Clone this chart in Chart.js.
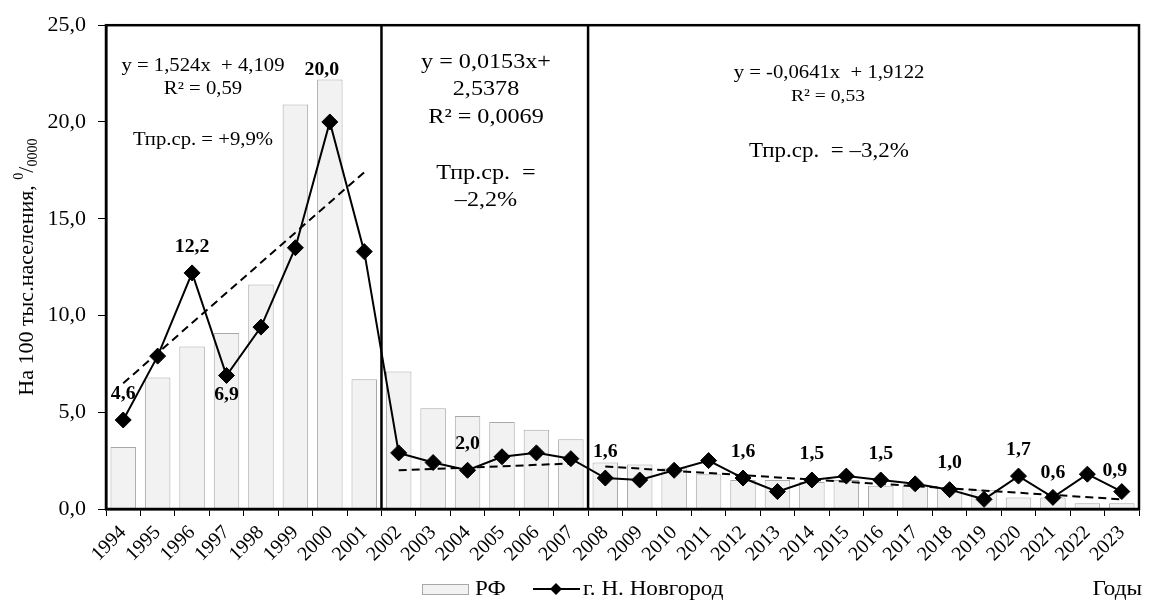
<!DOCTYPE html>
<html>
<head>
<meta charset="utf-8">
<script src="https://cdn.jsdelivr.net/npm/chart.js@4.4.1/dist/chart.umd.min.js"></script>
<style>
    html, body { margin: 0; padding: 0; background: #fff; }
</style>
</head>
<body>
<canvas id="chart" width="1152" height="603"></canvas>
<script>
// data
const years = ['1994','1995','1996','1997','1998','1999','2000','2001','2002','2003','2004','2005','2006','2007',
               '2008','2009','2010','2011','2012','2013','2014','2015','2016','2017','2018','2019','2020','2021','2022','2023'];
const rfValues = [3.2, 6.8, 8.4, 9.1, 11.6, 20.9, 22.2, 6.7, 7.1, 5.2, 4.8, 4.5, 4.1, 3.6,
                  2.4, 2.3, 2.1, 1.8, 1.5, 1.5, 1.4, 1.5, 1.2, 1.2, 1.1, 1.0, 0.6, 0.6, 0.3, 0.3];
const novValues = [4.6, 7.9, 12.2, 6.9, 9.4, 13.5, 20.0, 13.3, 2.9, 2.4, 2.0, 2.7, 2.9, 2.6,
                   1.6, 1.5, 2.0, 2.5, 1.6, 0.9, 1.5, 1.7, 1.5, 1.3, 1.0, 0.5, 1.7, 0.6, 1.8, 0.9];
// dashed trend lines, ends as drawn in the picture
const trend1Years = ['1994', '2001'];
const trend1Values = [6.5, 17.4];
const trend2Years = ['2002', '2007'];
const trend2Values = [2.0, 2.35];
const trend3Years = ['2008', '2023'];
const trend3Values = [2.2, 0.5];
// years after which a period ends (thick vertical lines)
const periodEnds = ['2001', '2007'];
// points that carry a value label
const labelYears = ['1994','1996','1997','2000','2004','2008','2012','2014','2016','2018','2020','2021','2023'];
const yTicks = [0, 5, 10, 15, 20, 25];

const SERIF = "'Liberation Serif', 'Times New Roman', serif";

// label nudges (px), default is straight above the point
const labelShift = { '1997': [0, 20], '2000': [-8, -52], '2021': [0, -24], '2023': [-7, -20] };

function pts(xs, ys) {
    return xs.map((x, i) => ({ x: x, y: ys[i] }));
}

// text in the picture is a bit wider than plain Times, so stretch it sideways
function wideText(ctx, str, x, y, font, sx, align) {
    ctx.save();
    ctx.font = font;
    ctx.fillStyle = 'black';
    ctx.textAlign = align || 'center';
    ctx.textBaseline = 'middle';
    ctx.translate(x, y);
    ctx.scale(sx, 1);
    ctx.fillText(str, 0, 0);
    ctx.restore();
}

const extras = {
    id: 'extras',
    beforeDatasetsDraw(chart) {
        const ctx = chart.ctx, a = chart.chartArea, xs = chart.scales.x;
        ctx.save();
        ctx.strokeStyle = 'black';
        ctx.lineWidth = 2.5;
        periodEnds.forEach(y => {
            const i = years.indexOf(y);
            const px = (xs.getPixelForValue(i) + xs.getPixelForValue(i + 1)) / 2;
            ctx.beginPath();
            ctx.moveTo(px, a.top);
            ctx.lineTo(px, a.bottom);
            ctx.stroke();
        });
        ctx.restore();
    },
    afterDraw(chart) {
        const ctx = chart.ctx, a = chart.chartArea, xs = chart.scales.x, ys = chart.scales.y;

        // frame round the plot
        ctx.save();
        ctx.strokeStyle = 'black';
        ctx.lineWidth = 2.5;
        ctx.strokeRect(a.left, a.top, a.right - a.left, a.bottom - a.top);
        ctx.restore();

        // value labels
        labelYears.forEach(y => {
            const i = years.indexOf(y);
            const sh = labelShift[y] || [0, -26];
            const px = xs.getPixelForValue(i) + sh[0];
            const py = ys.getPixelForValue(novValues[i]) + sh[1];
            wideText(ctx, novValues[i].toFixed(1).replace('.', ','), px, py, 'bold 18px ' + SERIF, 1.1);
        });

        // trend equations
        const f18 = '18px ' + SERIF, f20 = '20px ' + SERIF, f21 = '21px ' + SERIF;
        wideText(ctx, 'y = 1,524x  + 4,109', 203, 66, f18, 1.15);
        wideText(ctx, 'R² = 0,59', 203, 89, f18, 1.15);
        wideText(ctx, 'Тпр.ср. = +9,9%', 203, 140, f18, 1.15);

        wideText(ctx, 'y = 0,0153x+', 486, 62, f21, 1.15);
        wideText(ctx, '2,5378', 486, 89, f21, 1.15);
        wideText(ctx, 'R² = 0,0069', 486, 117, f21, 1.15);
        wideText(ctx, 'Тпр.ср.  =', 486, 173, f21, 1.15);
        wideText(ctx, '–2,2%', 486, 200, f21, 1.15);

        wideText(ctx, 'y = -0,0641x  + 1,9122', 829, 73, f18, 1.15);
        wideText(ctx, 'R² = 0,53', 828, 97, '17px ' + SERIF, 1.15);
        wideText(ctx, 'Тпр.ср.  = –3,2%', 829, 152, f20, 1.15);

        // legend
        const ly = 589;
        const rf = chart.data.datasets[3];
        ctx.save();
        ctx.fillStyle = rf.backgroundColor;
        ctx.strokeStyle = rf.borderColor;
        ctx.lineWidth = 1;
        ctx.fillRect(422, ly - 5, 46, 10);
        ctx.strokeRect(422.5, ly - 4.5, 46, 10);
        ctx.strokeStyle = 'black';
        ctx.lineWidth = 2;
        ctx.beginPath();
        ctx.moveTo(533, ly);
        ctx.lineTo(580, ly);
        ctx.stroke();
        ctx.fillStyle = 'black';
        ctx.beginPath();
        ctx.moveTo(556 - 6, ly);
        ctx.lineTo(556, ly - 6);
        ctx.lineTo(556 + 6, ly);
        ctx.lineTo(556, ly + 6);
        ctx.closePath();
        ctx.fill();
        ctx.restore();
        wideText(ctx, rf.label, 475, ly, '21px ' + SERIF, 1.1, 'left');
        wideText(ctx, chart.data.datasets[0].label, 583, ly, '21px ' + SERIF, 1.1, 'left');
        wideText(ctx, 'Годы', 1142, ly, '21px ' + SERIF, 1.1, 'right');

        // y axis title, with 0/0000 as super/subscript
        ctx.save();
        ctx.translate(27, (a.top + a.bottom) / 2);
        ctx.rotate(-Math.PI / 2);
        ctx.fillStyle = 'black';
        ctx.textBaseline = 'middle';
        ctx.textAlign = 'left';
        const main = 'На 100 тыс.населения, ';
        const big = '22px ' + SERIF, small = '14px ' + SERIF;
        ctx.font = big;
        const w1 = ctx.measureText(main).width, w3 = ctx.measureText('/').width;
        ctx.font = small;
        const w2 = ctx.measureText('0').width, w4 = ctx.measureText('0000').width;
        let x = -(w1 + w2 + w3 + w4) / 2;
        ctx.font = big;
        ctx.fillText(main, x, 0); x += w1;
        ctx.font = small;
        ctx.fillText('0', x, -8); x += w2;
        ctx.font = big;
        ctx.fillText('/', x, 0); x += w3;
        ctx.font = small;
        ctx.fillText('0000', x, 6);
        ctx.restore();
    }
};

const trendStyle = {
    type: 'line',
    borderColor: 'black',
    borderWidth: 2,
    borderDash: [8, 5],
    pointRadius: 0,
    fill: false,
    order: 1
};

new Chart(document.getElementById('chart'), {
    data: {
        labels: years,
        datasets: [
            {
                type: 'line',
                label: 'г. Н. Новгород',
                data: novValues,
                borderColor: 'black',
                borderWidth: 2,
                pointStyle: 'rectRot',
                pointRadius: 8,
                pointBackgroundColor: 'black',
                pointBorderColor: 'black',
                pointBorderWidth: 1,
                tension: 0,
                order: 0
            },
            Object.assign({ label: 'trend1', data: pts(trend1Years, trend1Values) }, trendStyle),
            Object.assign({ label: 'trend2', data: pts(trend2Years, trend2Values) }, trendStyle),
            {
                type: 'bar',
                label: 'РФ',
                data: rfValues,
                backgroundColor: '#f2f2f2',
                borderColor: '#a8a8a8',
                borderWidth: 1,
                barPercentage: 0.74,
                categoryPercentage: 1,
                order: 3
            },
            Object.assign({ label: 'trend3', data: pts(trend3Years, trend3Values) }, trendStyle)
        ]
    },
    options: {
        responsive: false,
        animation: false,
        devicePixelRatio: 1,
        layout: { padding: { top: 25, right: 13, left: 0, bottom: 0 } },
        plugins: {
            legend: { display: false },
            tooltip: { enabled: false }
        },
        scales: {
            x: {
                type: 'category',
                offset: true,
                afterFit: (s) => { s.height = 94; }, // leaves room for the legend row
                border: { display: true, color: 'black', width: 2.5 },
                grid: { offset: true, drawOnChartArea: false, tickLength: 7, color: 'black', tickWidth: 1 },
                ticks: {
                    color: 'black',
                    font: { family: SERIF, size: 20 },
                    maxRotation: 45,
                    minRotation: 45,
                    autoSkip: false,
                    padding: 5
                }
            },
            y: {
                min: 0,
                max: 25,
                afterFit: (s) => { s.width = 106; },
                afterBuildTicks: (s) => { s.ticks = yTicks.map(v => ({ value: v })); },
                border: { display: true, color: 'black', width: 2.5 },
                grid: { drawOnChartArea: false, tickLength: 8, color: 'black', tickWidth: 1 },
                ticks: {
                    color: 'black',
                    font: { family: SERIF, size: 22 },
                    padding: 12,
                    callback: (v) => v.toFixed(1).replace('.', ',')
                }
            }
        }
    },
    plugins: [extras]
});
</script>
</body>
</html>
